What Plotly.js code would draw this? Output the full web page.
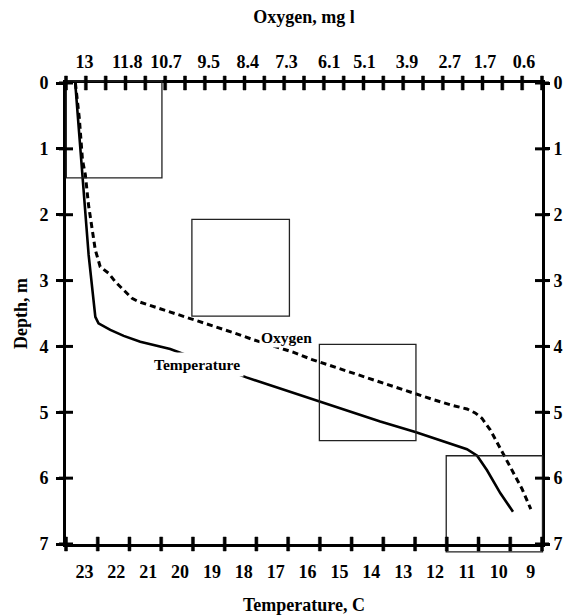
<!DOCTYPE html>
<html>
<head>
<meta charset="utf-8">
<script src="https://cdn.plot.ly/plotly-3.0.1.min.js"></script>
<style>html,body{margin:0;padding:0;background:#fff;}#chart{width:563px;height:615px;}</style>
</head>
<body>
<div id="chart"></div>
<script>
// ---- data ----
const depthTicks = [0, 1, 2, 3, 4, 5, 6, 7];
const tempTicks = [23, 22, 21, 20, 19, 18, 17, 16, 15, 14, 13, 12, 11, 10, 9];
const oxygenTicks = [13, 11.8, 10.7, 9.5, 8.4, 7.3, 6.1, 5.1, 3.9, 2.7, 1.7, 0.6];

const tempDepth = [0, 1.44, 2.23, 2.61, 3.55, 3.65, 3.75, 3.84, 3.93, 4.04, 4.47, 5.14, 5.30, 5.48, 5.56, 5.66, 5.88, 6.23, 6.51];
const tempValues = [23.29, 23.06, 22.94, 22.87, 22.66, 22.56, 22.19, 21.77, 21.25, 20.31, 17.92, 13.72, 12.62, 11.52, 11.00, 10.68, 10.37, 9.95, 9.555];

const oxyDepth = [0, 0.53, 1.17, 1.39, 1.85, 2.20, 2.53, 2.79, 2.89, 3.02, 3.14, 3.27, 3.32, 3.37, 3.42, 3.50, 3.60, 3.70, 3.80, 3.90, 4.09, 4.20, 4.31, 4.41, 4.51, 4.61, 4.71, 4.81, 4.90, 4.95, 5.01, 5.09, 5.27, 5.50, 5.70, 5.93, 6.16, 6.47];
const oxyValues = [13.26, 13.15, 13.06, 12.98, 12.89, 12.79, 12.70, 12.56, 12.32, 12.13, 11.90, 11.66, 11.48, 11.19, 10.96, 10.44, 9.88, 9.31, 8.75, 8.23, 7.10, 6.58, 5.97, 5.41, 4.85, 4.28, 3.72, 3.15, 2.59, 2.21, 1.98, 1.79, 1.55, 1.32, 1.13, 0.90, 0.66, 0.41];

// outlined boxes (temperature / depth units)
const boxTempLeft = [23.57, 19.63, 15.63, 11.65];
const boxTempRight = [20.57, 16.57, 12.60, 8.63];
const boxDepthTop = [-0.03, 2.07, 3.97, 5.66];
const boxDepthBottom = [1.44, 3.54, 5.43, 7.12];

// ---- layout settings ----
const W = 563, H = 615;
const M = {l: 66, r: 21, t: 83, b: 71};
const plotW = W - M.l - M.r, plotH = H - M.t - M.b;
const tempRange = [23.58, 8.645];
const oxyRange = [13.525, 0.094];
const depthRange = [7, 0];
const bottomTickCount = 15;   // tick intervals drawn on the temperature axis line
const topTickCount = 24;      // tick intervals drawn on the oxygen axis line
const tickHalf = 7;           // px, tick marks cross the frame lines
const tickThick = 3;          // px

const FONT = 'Liberation Serif, Times New Roman, serif';
const tickFont = {family: FONT, size: 18, color: '#000', weight: 'bold'};
const titleFont = {family: FONT, size: 18, color: '#000', weight: 'bold'};

const toFrac = (v, r) => (v - r[0]) / (r[1] - r[0]);
const fracs = n => Array.from({length: n + 1}, (_, i) => i / n);

const boxShapes = boxTempLeft.map((_, i) => ({
  type: 'rect', xref: 'x domain', yref: 'y domain',
  x0: toFrac(boxTempLeft[i], tempRange), x1: toFrac(boxTempRight[i], tempRange),
  y0: toFrac(boxDepthBottom[i], depthRange), y1: toFrac(boxDepthTop[i], depthRange),
  line: {color: '#222', width: 1.3}, fillcolor: 'rgba(0,0,0,0)', layer: 'above'
}));

// vertical tick marks on the top and bottom frame lines (small filled bars, paper units)
const dx = tickThick / 2 / plotW, dy = tickHalf / plotH;
const hTicks = (n, edge) => fracs(n).map(f => ({
  type: 'rect', xref: 'paper', yref: 'paper',
  x0: f - dx, x1: f + dx, y0: edge - dy, y1: edge + dy,
  fillcolor: '#000', line: {color: '#000', width: 0.5}, layer: 'above'
}));
// horizontal tick marks on the left and right frame lines
const vTicks = anchor => depthTicks.map(d => ({
  type: 'line', xref: 'x domain', yref: 'y domain', y0: toFrac(d, depthRange), y1: toFrac(d, depthRange),
  xsizemode: 'pixel', xanchor: anchor, x0: -tickHalf, x1: tickHalf,
  line: {color: '#000', width: tickThick}, layer: 'above'
}));

const shapes = boxShapes
  .concat(hTicks(bottomTickCount, 0))
  .concat(hTicks(topTickCount, 1))
  .concat(vTicks(0))
  .concat(vTicks(1));

const traces = [
  {x: tempValues, y: tempDepth, xaxis: 'x', yaxis: 'y', type: 'scatter', mode: 'lines',
   line: {color: '#000', width: 2.6}, name: 'Temperature', showlegend: false, hoverinfo: 'skip'},
  {x: oxyValues, y: oxyDepth, xaxis: 'x2', yaxis: 'y', type: 'scatter', mode: 'lines',
   line: {color: '#000', width: 3, dash: '6px,4px'}, name: 'Oxygen', showlegend: false, hoverinfo: 'skip'},
  // invisible point so that the right-hand depth axis gets drawn
  {x: [16], y: [3.5], xaxis: 'x', yaxis: 'y2', type: 'scatter', mode: 'markers',
   marker: {size: 1, opacity: 0}, showlegend: false, hoverinfo: 'skip'}
];

const layout = {
  width: W, height: H,
  margin: {l: M.l, r: M.r, t: M.t, b: M.b, pad: 0},
  paper_bgcolor: '#fff', plot_bgcolor: '#fff',
  showlegend: false,
  xaxis: {
    range: tempRange, tickmode: 'array', tickvals: tempTicks, ticktext: tempTicks.map(String),
    ticks: '', showline: true, mirror: true, linewidth: 3, linecolor: '#000', showgrid: false, zeroline: false,
    tickfont: tickFont, ticklabelstandoff: 9, side: 'bottom', anchor: 'y',
    title: {text: 'Temperature, C', font: titleFont, standoff: 22}
  },
  xaxis2: {
    overlaying: 'x', side: 'top', anchor: 'y',
    range: oxyRange, tickmode: 'array', tickvals: oxygenTicks, ticktext: oxygenTicks.map(String),
    ticks: '', showline: false, showgrid: false, zeroline: false,
    tickfont: tickFont, ticklabelstandoff: 10, automargin: true,
    title: {text: 'Oxygen, mg l', font: titleFont, standoff: 24}
  },
  yaxis: {
    range: depthRange, tickmode: 'array', tickvals: depthTicks, ticktext: depthTicks.map(String),
    ticks: 'outside', ticklen: 7, tickwidth: 3, tickcolor: '#000',
    showline: true, mirror: true, linewidth: 3, linecolor: '#000', showgrid: false, zeroline: false,
    tickfont: tickFont, ticklabelstandoff: 4, side: 'left', anchor: 'x',
    title: {text: 'Depth, m', font: titleFont, standoff: 8}
  },
  yaxis2: {
    overlaying: 'y', side: 'right', anchor: 'x',
    range: depthRange, tickmode: 'array', tickvals: depthTicks, ticktext: depthTicks.map(String),
    ticks: 'outside', ticklen: 7, tickwidth: 3, tickcolor: '#000',
    showline: false, showgrid: false, zeroline: false,
    tickfont: tickFont
  },
  shapes: shapes,
  annotations: [
    {xref: 'x2', yref: 'y', x: 7.30, y: 3.86, text: 'Oxygen', showarrow: false,
     font: {family: FONT, size: 15.5, color: '#000', weight: 'bold'}, bgcolor: '#fff', borderpad: 1},
    {xref: 'x', yref: 'y', x: 19.46, y: 4.28, text: 'Temperature', showarrow: false,
     font: {family: FONT, size: 15.5, color: '#000', weight: 'bold'}, bgcolor: '#fff', borderpad: 3}
  ]
};

Plotly.newPlot('chart', traces, layout, {staticPlot: true, displayModeBar: false});
</script>
</body>
</html>
